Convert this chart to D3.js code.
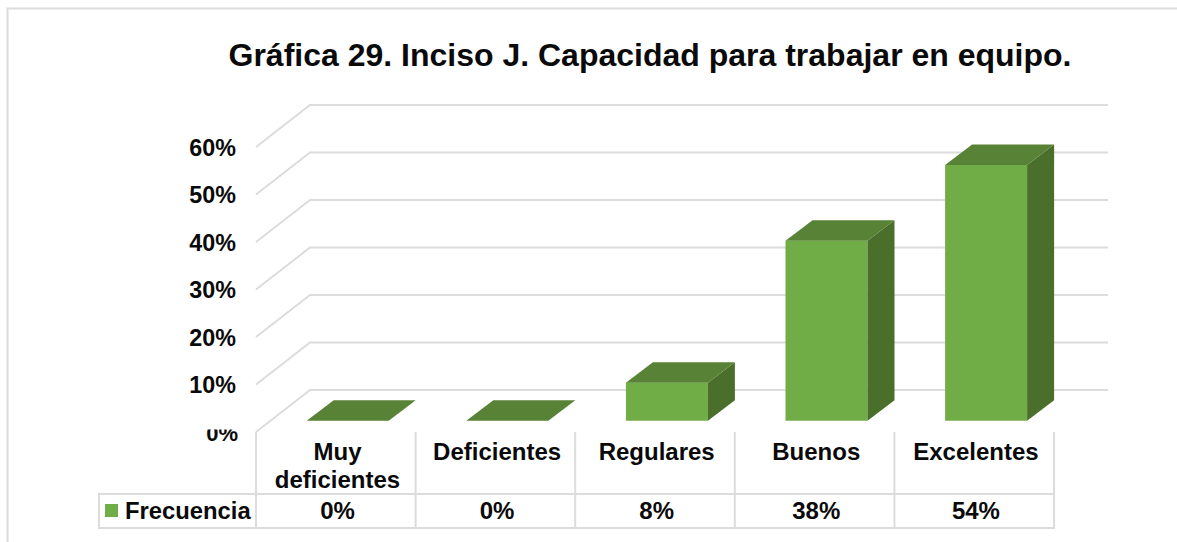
<!DOCTYPE html>
<html><head><meta charset="utf-8">
<script src="https://cdn.jsdelivr.net/npm/d3@7"></script>
<style>html,body{margin:0;padding:0;background:#fff}svg{display:block}text{font-family:"Liberation Sans",Arial,sans-serif;font-weight:bold;fill:#0a0a0a}</style>
</head><body><svg id="c" width="1177" height="542"></svg>
<script>
const categories=[["Muy","deficientes"],["Deficientes"],["Regulares"],["Buenos"],["Excelentes"]];
const values=[0,0,8,38,54];
const yTicks=[0,10,20,30,40,50,60];
const seriesName="Frecuencia";
const titleText="Gráfica 29. Inciso J. Capacidad para trabajar en equipo.";

const svg=d3.select("#c");
const gridC="#dcdcdc",front="#70ad47",top_="#588235",side="#4a6f2a";
const x=d3.scaleBand().domain(d3.range(5)).range([256,1054]);
const y=d3.scaleLinear().domain([0,60]).range([432,147]);
const yBar=d3.scaleLinear().domain([0,10]).range([420.7,373.35]);
const depthX=54,depthY=42,barDX=27,barDY=20.5,barOff=50.7,barW=82;

// frame
svg.append("path").attr("d","M1177,8.5H7.5V542").attr("fill","none").attr("stroke",gridC).attr("stroke-width",2);

// gridlines
svg.append("g").selectAll("path").data(yTicks).join("path")
 .attr("d",t=>`M256,${y(t)}L${256+depthX},${y(t)-depthY}H1108`)
 .attr("fill","none").attr("stroke",gridC).attr("stroke-width",2);

// bars
const bars=svg.append("g").selectAll("g").data(values).join("g");
bars.append("path").attr("fill",front).attr("d",(v,i)=>{const a=x(i)+barOff;return `M${a},${yBar(0)}V${yBar(v)}H${a+barW}V${yBar(0)}Z`;});
bars.append("path").attr("fill",side).attr("d",(v,i)=>{const b=x(i)+barOff+barW;return `M${b},${yBar(0)}V${yBar(v)}L${b+barDX},${yBar(v)-barDY}V${yBar(0)-barDY}Z`;});
bars.append("path").attr("fill",top_).attr("d",(v,i)=>{const a=x(i)+barOff;return `M${a},${yBar(v)}L${a+barDX},${yBar(v)-barDY}H${a+barW+barDX}L${a+barW},${yBar(v)}Z`;});

// y labels
svg.append("g").selectAll("text").data(yTicks.filter(t=>t>0)).join("text")
 .attr("x",236).attr("y",t=>y(t)+8.5).attr("text-anchor","end").attr("font-size",23.3).text(t=>t+"%");
// 0% label, top clipped
svg.append("clipPath").attr("id","z").append("rect").attr("x",180).attr("y",429.5).attr("width",70).attr("height",30);
svg.append("text").attr("clip-path","url(#z)").attr("x",238).attr("y",441).attr("text-anchor","end").attr("font-size",22).text(yTicks[0]+"%");

// data table
const tableTop=494,tableBot=528;
const tb=svg.append("g").attr("stroke",gridC).attr("stroke-width",2).attr("fill","none");
tb.append("path").attr("d",`M99,${tableTop}H1054M99,${tableBot}H1054M99,${tableTop-1}V${tableBot+1}`);
tb.selectAll("line").data(d3.range(6)).join("line").attr("x1",i=>i<5?x(i):1054).attr("x2",i=>i<5?x(i):1054).attr("y1",432).attr("y2",tableBot+1);

categories.forEach((lines,i)=>{
 lines.forEach((l,j)=>svg.append("text").attr("x",x(i)+x.bandwidth()/2+1.7).attr("y",460+j*28).attr("text-anchor","middle").attr("font-size",24).text(l));
});
svg.append("g").selectAll("text").data(values).join("text").attr("x",(v,i)=>x(i)+x.bandwidth()/2+1.7).attr("y",519).attr("text-anchor","middle").attr("font-size",24).text(v=>v+"%");
svg.append("rect").attr("x",105).attr("y",504).attr("width",13).attr("height",13).attr("fill",front);
svg.append("text").attr("x",125).attr("y",519).attr("font-size",23.8).text(seriesName);

svg.append("text").attr("x",650).attr("y",66).attr("text-anchor","middle").attr("font-size",32).text(titleText);
</script></body></html>
